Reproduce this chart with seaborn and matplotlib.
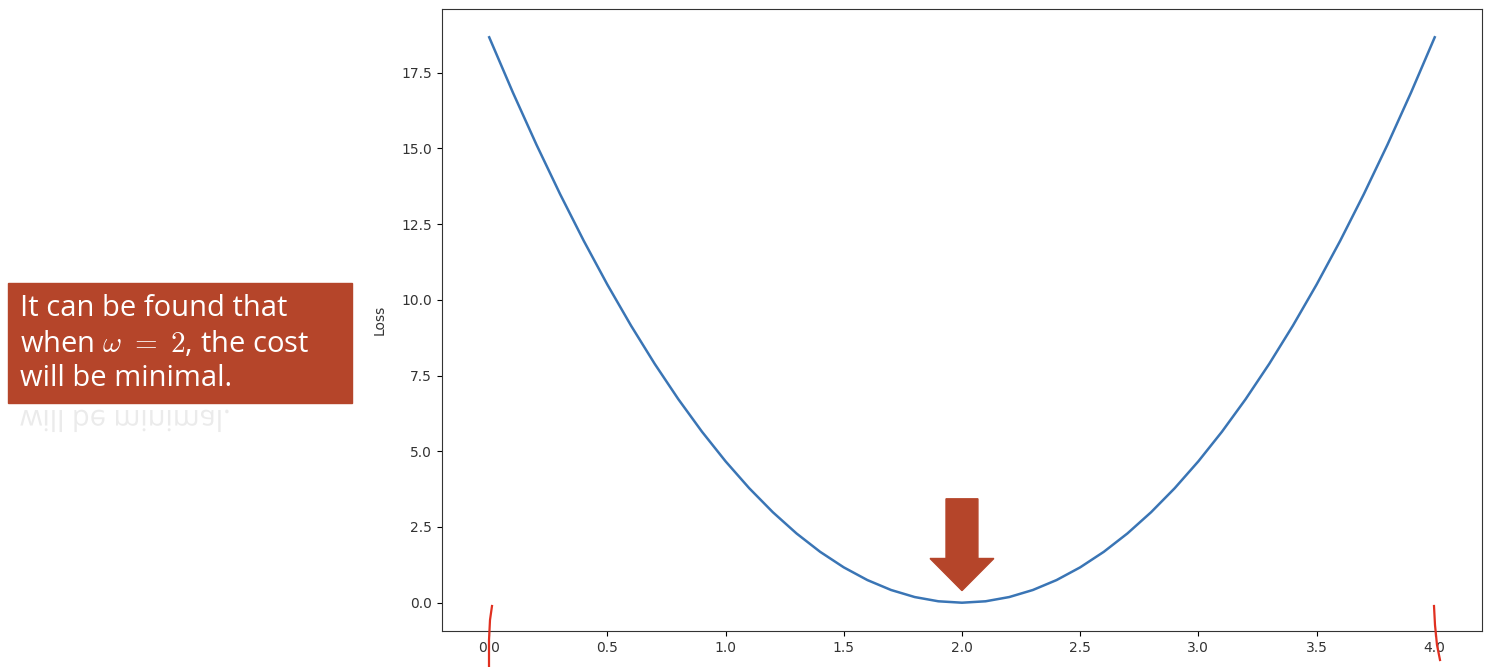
import matplotlib
matplotlib.use("Agg")
import matplotlib.pyplot as plt
import seaborn as sns
import pandas as pd
from matplotlib.patches import Rectangle, PathPatch
from matplotlib.textpath import TextPath
from matplotlib.font_manager import FontProperties
from matplotlib.transforms import Affine2D

# weight values and the loss
w_values = [0.0, 0.1, 0.2, 0.3, 0.4, 0.5, 0.6, 0.7, 0.8, 0.9,
            1.0, 1.1, 1.2, 1.3, 1.4, 1.5, 1.6, 1.7, 1.8, 1.9,
            2.0, 2.1, 2.2, 2.3, 2.4, 2.5, 2.6, 2.7, 2.8, 2.9,
            3.0, 3.1, 3.2, 3.3, 3.4, 3.5, 3.6, 3.7, 3.8, 3.9, 4.0]
loss_values = [18.667, 16.847, 15.120, 13.487, 11.947, 10.500, 9.147, 7.887, 6.720, 5.647,
               4.667, 3.780, 2.987, 2.287, 1.680, 1.167, 0.747, 0.420, 0.187, 0.047,
               0.000, 0.047, 0.187, 0.420, 0.747, 1.167, 1.680, 2.287, 2.987, 3.780,
               4.667, 5.647, 6.720, 7.887, 9.147, 10.500, 11.947, 13.487, 15.120, 16.847, 18.667]

df = pd.DataFrame({'w': w_values, 'Loss': loss_values})

fig = plt.figure(figsize=(14.92, 6.67), dpi=100)
ax = fig.add_axes([0.2962, 0.054, 0.6971, 0.9325])

sns.lineplot(data=df, x='w', y='Loss', color='#3a75b5', linewidth=1.8, ax=ax)
ax.set_xlabel('')
ax.set_ylabel('Loss', fontsize=10, color='#333333', labelpad=11, family='DejaVu Sans')
ax.set_xticks([0.0, 0.5, 1.0, 1.5, 2.0, 2.5, 3.0, 3.5, 4.0])
ax.set_yticks([0.0, 2.5, 5.0, 7.5, 10.0, 12.5, 15.0, 17.5])
ax.tick_params(labelsize=10, labelcolor='#333333')
for s in ax.spines.values():
    s.set_color('#333333')

# red arrow pointing at the minimum
ax.arrow(2.0, 3.43, 0, -3.03, width=0.135, head_width=0.27, head_length=1.06,
         length_includes_head=True, color='#b5452a', zorder=5)

# text box on the left
fig.patches.append(Rectangle((8 / 1492, 1 - 403 / 667), 344 / 1492, 120 / 667,
                             transform=fig.transFigure, color='#b5452a', zorder=1))
fig.text(20 / 1492, 1 - 308 / 667, 'It can be found that', color='white',
         fontsize=21, family='Open Sans', va='center', ha='left')
fig.text(20 / 1492, 1 - 344 / 667, r'when $\mathit{\omega}\ =\ \mathrm{2}$, the cost', color='white',
         fontsize=21, family='Open Sans', va='center', ha='left', math_fontfamily='cm')
fig.text(20 / 1492, 1 - 379 / 667, 'will be minimal.', color='white',
         fontsize=21, family='Open Sans', va='center', ha='left')

# faded reflection of the last line
tp = TextPath((0, 0), 'will be minimal.', size=29, prop=FontProperties(family='Open Sans'))
flip = Affine2D().scale(1, -1).translate(20, 667 - 410)
fig.patches.append(PathPatch(tp, transform=flip, facecolor='#ebebeb', edgecolor='none', zorder=2))

# hand drawn red marks near the ends
fig.lines.append(plt.Line2D([492 / 1492, 490 / 1492, 489 / 1492, 489 / 1492],
                            [1 - 606 / 667, 1 - 620 / 667, 1 - 640 / 667, 1 - 667 / 667],
                            transform=fig.transFigure, color='#e03020', linewidth=1.6))
fig.lines.append(plt.Line2D([1434 / 1492, 1435 / 1492, 1437 / 1492, 1440 / 1492],
                            [1 - 606 / 667, 1 - 625 / 667, 1 - 645 / 667, 1 - 660 / 667],
                            transform=fig.transFigure, color='#e03020', linewidth=1.6))

fig.savefig('out.png', dpi=100)
